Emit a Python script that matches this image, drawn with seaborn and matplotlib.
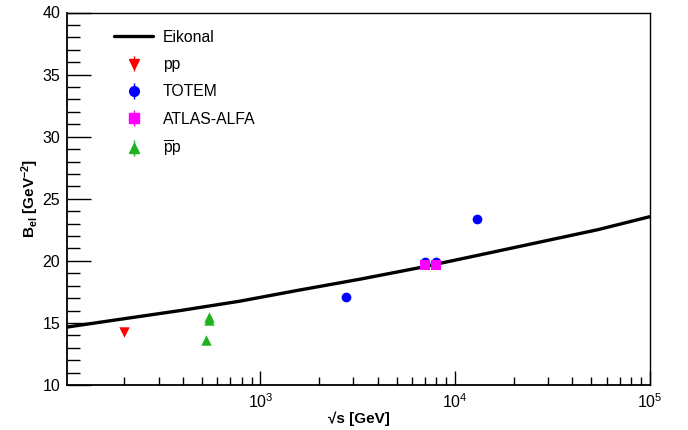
import numpy as np
import pandas as pd
import matplotlib
matplotlib.use("Agg")
import matplotlib.pyplot as plt
import seaborn as sns
from matplotlib.ticker import LogLocator, MultipleLocator
from matplotlib.lines import Line2D

# ---- data ----
eik_sqrt_s = [100, 190, 385, 783, 1590, 3240, 6560, 13400, 27000, 54000, 100000]
eik_B = [14.65, 15.29, 15.99, 16.75, 17.65, 18.52, 19.45, 20.48, 21.50, 22.51, 23.56]

pp_sqrt_s = [200]
pp_B = [14.3]

totem_sqrt_s = [2760, 7000, 8000, 13000]
totem_B = [17.1, 19.9, 19.9, 23.4]

atlas_sqrt_s = [7000, 8000]
atlas_B = [19.7, 19.7]

ppbar_sqrt_s = [525, 546, 546]
ppbar_B = [13.6, 15.5, 15.2]

sns.set_theme(style="white")
plt.rcParams['font.family'] = ['Liberation Sans', 'DejaVu Sans']
plt.rcParams['text.color'] = 'black'
plt.rcParams['axes.labelcolor'] = 'black'
plt.rcParams['mathtext.fontset'] = 'custom'
plt.rcParams['mathtext.rm'] = 'Liberation Sans'
plt.rcParams['mathtext.it'] = 'Liberation Sans:italic'
plt.rcParams['mathtext.bf'] = 'Liberation Sans:bold'

fig = plt.figure(figsize=(6.88, 4.30), dpi=100)
ax = fig.add_axes([67/688, 45/430, (650-67)/688, (385-12.5)/430])

eik = pd.DataFrame({"x": eik_sqrt_s, "y": eik_B})
sns.lineplot(data=eik, x="x", y="y", ax=ax, color="black", lw=2.4, legend=False)

series = [
    (pp_sqrt_s, pp_B, "v", "#ff0000", 7.5),
    (totem_sqrt_s, totem_B, "o", "#0000ff", 7.0),
    (atlas_sqrt_s, atlas_B, "s", "#ff00ff", 6.5),
    (ppbar_sqrt_s, ppbar_B, "^", "#1fb41f", 7.5),
]
for xs, ys, m, c, s in series:
    df = pd.DataFrame({"x": xs, "y": ys})
    sns.scatterplot(data=df, x="x", y="y", ax=ax, marker=m, color=c,
                    s=s**2, edgecolor=c, linewidth=0, zorder=3, legend=False)

ax.set_xscale("log")
ax.set_xlim(101.5, 1e5)
ax.set_ylim(10, 40)

# legend handles
handles = [Line2D([], [], color="black", lw=2.4)]
labels = ["Eikonal", "pp", "TOTEM", "ATLAS-ALFA", r"$\overline{\mathrm{p}}$p"]
for xs, ys, m, c, s in series:
    h = ax.errorbar([np.nan], [np.nan], yerr=[1.0], fmt=m, color=c, ms=s,
                    mec=c, elinewidth=1, capsize=0)
    handles.append(h)
leg = ax.legend(handles, labels, loc="upper left", bbox_to_anchor=(0.062, 0.983),
                frameon=False, fontsize=11.3, handlelength=2.5, handletextpad=0.6,
                labelspacing=0.78, borderaxespad=0.3)
for t in leg.get_texts():
    t.set_color("black")

# ticks in ROOT style
ax.yaxis.set_major_locator(MultipleLocator(5))
ax.yaxis.set_minor_locator(MultipleLocator(1))
ax.xaxis.set_major_locator(LogLocator(base=10, numticks=10))
ax.xaxis.set_minor_locator(LogLocator(base=10, subs=np.arange(2, 10), numticks=20))
ax.tick_params(axis="both", which="both", direction="in", top=False, right=False,
               bottom=True, left=True, colors="black", labelsize=11.5, labelcolor="black")
ax.tick_params(axis="y", which="major", length=17, width=1, pad=5)
ax.tick_params(axis="y", which="minor", length=9, width=1)
ax.tick_params(axis="x", which="major", length=10, width=1, pad=5)
ax.tick_params(axis="x", which="minor", length=6, width=1)

for sp in ax.spines.values():
    sp.set_color("black")
    sp.set_linewidth(1.0)
ax.spines["left"].set_linewidth(1.3)
ax.spines["bottom"].set_linewidth(1.3)

ax.set_xlabel("√s [GeV]", fontsize=11, fontweight="bold", color="black", labelpad=1)
ax.set_ylabel(r"$\mathbf{B_{el}}$ $\mathbf{[GeV^{-2}]}$", fontsize=11, color="black", labelpad=1)

fig.savefig("out.png", dpi=100, facecolor="white")
